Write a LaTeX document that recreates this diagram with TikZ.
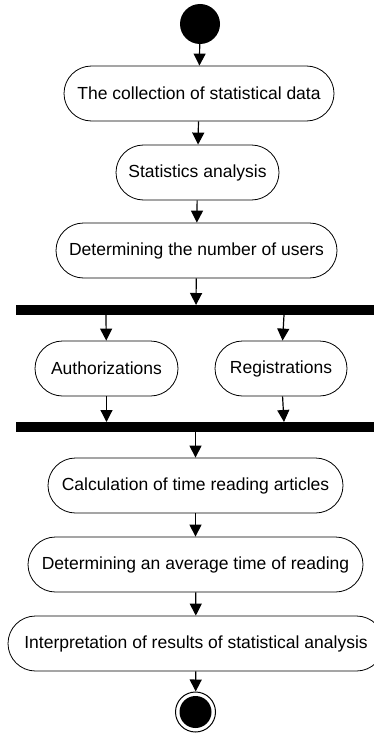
\documentclass[tikz,border=0pt]{standalone}
\usepackage{fontspec}
\setmainfont{Liberation Sans}
\usetikzlibrary{arrows.meta}

\tikzset{
  act/.style={draw, line width=0.8pt, rectangle, rounded corners=27.5pt,
    minimum height=55pt, inner sep=0pt, font=\fontsize{17.5}{21}\selectfont},
  bar/.style={fill=black, rectangle, inner sep=0pt, minimum height=10pt, minimum width=360pt},
  flow/.style={line width=1.2pt, -{Triangle[length=12pt,width=12pt]}},
  startdot/.style={circle, fill=black, inner sep=0pt, minimum size=40pt},
  endring/.style={circle, draw, line width=1pt, inner sep=0pt, minimum size=40pt},
  enddot/.style={circle, fill=black, inner sep=0pt, minimum size=32pt},
}

\begin{document}
\begin{tikzpicture}[x=1pt, y=-1pt]
\useasboundingbox (0,0) rectangle (374,733);
\clip (0,0) rectangle (374,733);

% initial state
\node[startdot] (start) at (200,24) {};

% sequential activities
\node[act, minimum width=270pt] (n1) at (199,93.5) {The collection of statistical data};
\node[act, minimum width=163pt] (n2) at (197.5,172.5) {Statistics analysis};
\node[act, minimum width=281pt] (n3) at (196.5,250.5) {Determining the number of users};

% fork
\node[bar] (fork) at (196,310) {};
\coordinate (forkin) at (196,305);
\coordinate (forka) at (106,315);
\coordinate (forkr) at (284,315);

% parallel activities
\node[act, minimum width=143pt] (auth) at (106.5,368.5) {Authorizations};
\node[act, minimum width=132pt] (reg) at (281,368.5) {Registrations};

% join
\node[bar] (join) at (196,427) {};
\coordinate (joina) at (106.5,422);
\coordinate (joinr) at (284,422);
\coordinate (joinout) at (195.5,432);

% remaining activities
\node[act, minimum width=295pt] (n7) at (195.5,485.5) {Calculation of time reading articles};
\node[act, minimum width=335pt] (n8) at (195.5,564.5) {Determining an average time of reading};
\node[act, minimum width=376pt] (n9) at (196,643.5) {Interpretation of results of statistical analysis};

% final state
\node[endring] (stop) at (195.5,712) {};
\node[enddot] (stopcore) at (stop) {};

% control flow
\draw[flow] (start) -- (n1);
\draw[flow] (n1) -- (n2);
\draw[flow] (n2) -- (n3);
\draw[flow] (n3) -- (forkin);
\draw[flow] (forka) -- (auth);
\draw[flow] (forkr) -- (reg);
\draw[flow] (auth) -- (joina);
\draw[flow] (reg) -- (joinr);
\draw[flow] (joinout) -- (n7);
\draw[flow] (n7) -- (n8);
\draw[flow] (n8) -- (n9);
\draw[flow] (n9) -- (stop);
\end{tikzpicture}
\end{document}
